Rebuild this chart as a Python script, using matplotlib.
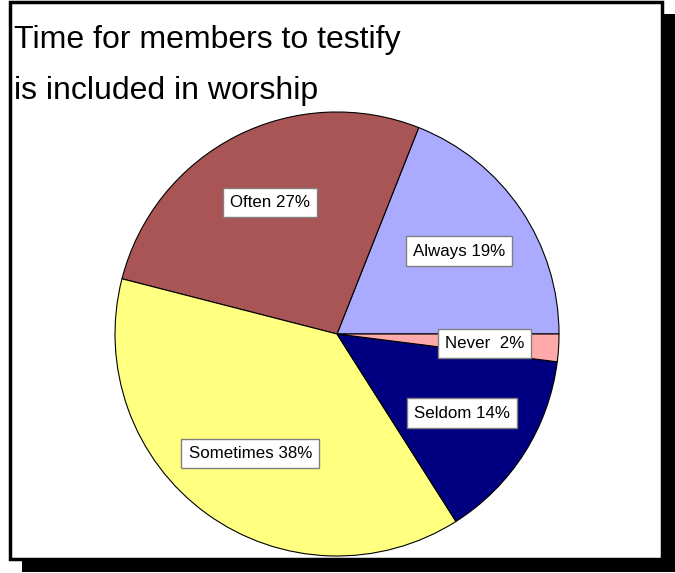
import matplotlib.pyplot as plt
from matplotlib.patches import Rectangle

categories = ['Always', 'Often', 'Sometimes', 'Seldom', 'Never']
percents = [19, 27, 38, 14, 2]
colors = ['#AAAAFF', '#AA5555', '#FFFF80', '#000080', '#FFAAAA']
title_lines = ['Time for members to testify', 'is included in worship']

W, H = 675, 573
fig = plt.figure(figsize=(W / 100, H / 100), dpi=100)
ax = fig.add_axes([0, 0, 1, 1])
ax.set_xlim(0, W)
ax.set_ylim(0, H)
ax.set_aspect('equal')
ax.axis('off')

# outer frame with drop shadow
ax.add_patch(Rectangle((22, 1), 654, 558, facecolor='black', edgecolor='none', zorder=0))
ax.add_patch(Rectangle((10, 14), 652, 557, facecolor='white', edgecolor='black', lw=2.5, zorder=1))

labels = [f'{c} {p:>2}%' for c, p in zip(categories, percents)]
wedges, texts = ax.pie(percents, labels=labels, colors=colors, startangle=0,
                       counterclock=True, center=(337, H - 334), radius=222,
                       labeldistance=0.665, frame=True,
                       wedgeprops=dict(edgecolor='black', linewidth=0.8, zorder=2),
                       textprops=dict(family='Liberation Sans', fontsize=12.2, zorder=5))
for t in texts:
    t.set_ha('center')
    t.set_va('center')
    t.set_bbox(dict(boxstyle='square,pad=0.42', facecolor='white', edgecolor='#808080', lw=1))

ax.set_xlim(0, W)
ax.set_ylim(0, H)
ax.axis('off')

for i, line in enumerate(title_lines):
    ax.text(14, H - 40 - 51 * i, line, family='Liberation Sans', fontsize=23,
            ha='left', va='center', zorder=6)

fig.savefig('out.png', dpi=100)
